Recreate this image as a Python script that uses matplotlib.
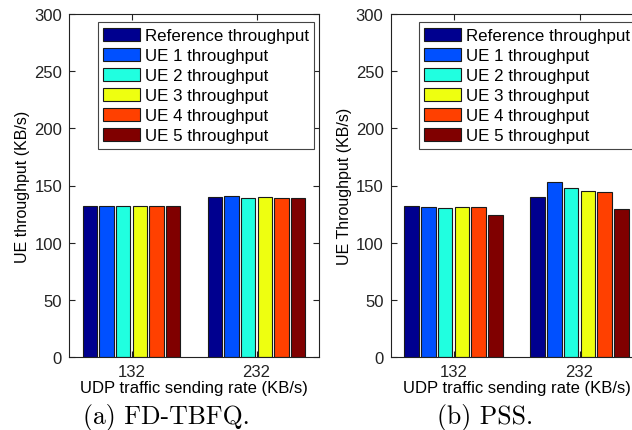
import matplotlib
matplotlib.use("Agg")
import matplotlib.pyplot as plt
import numpy as np

plt.rcParams['font.family'] = ['Liberation Sans', 'DejaVu Sans']

rates = ["132", "232"]
series = ["Reference throughput", "UE 1 throughput", "UE 2 throughput",
          "UE 3 throughput", "UE 4 throughput", "UE 5 throughput"]
colors = ["#00008F", "#0050FF", "#20FFE0", "#EEFF10", "#FF4000", "#800000"]

# values per series: [132, 232]
fdtbfq = {
    "Reference throughput": [132.5, 139.7],
    "UE 1 throughput": [132.5, 140.6],
    "UE 2 throughput": [132.5, 138.8],
    "UE 3 throughput": [132.5, 139.7],
    "UE 4 throughput": [132.5, 138.8],
    "UE 5 throughput": [132.5, 138.8],
}
pss = {
    "Reference throughput": [132.5, 139.7],
    "UE 1 throughput": [131.2, 153.1],
    "UE 2 throughput": [130.6, 148.1],
    "UE 3 throughput": [131.2, 145.0],
    "UE 4 throughput": [131.2, 144.4],
    "UE 5 throughput": [124.5, 129.7],
}

fig = plt.figure(figsize=(6.32, 4.31), dpi=100)
W, H = 632, 431

def px_axes(left, top, right, bottom):
    return fig.add_axes([left / W, 1 - bottom / H, (right - left) / W, (bottom - top) / H])

ax1 = px_axes(69, 15, 319, 358)
ax2 = px_axes(390.5, 15, 642.5, 358)

x = np.arange(1, len(rates) + 1)
step = 0.1333
width = 0.117

def draw(ax, data, ylabel, caption, cap_x, legend_x):
    n = len(series)
    for i, s in enumerate(series):
        off = (i - (n - 1) / 2) * step
        ax.bar(x + off, data[s], width=width, color=colors[i], edgecolor="#1a1a1a",
               linewidth=0.8, label=s, zorder=2)
    ax.set_xlim(0.5, 2.5)
    ax.set_ylim(0, 300)
    ax.set_yticks(np.arange(0, 301, 50))
    ax.set_xticks(x)
    ax.set_xticklabels(rates)
    ax.tick_params(direction='in', top=True, right=True, length=4, width=0.8,
                   labelsize=12, pad=5, colors='#222222')
    for sp in ax.spines.values():
        sp.set_color('#222222')
        sp.set_linewidth(0.8)
    ax.set_xlabel("UDP traffic sending rate (KB/s)", fontsize=12, labelpad=1)
    ax.set_ylabel(ylabel, fontsize=11.5, labelpad=3)
    leg = ax.legend(loc='upper left', bbox_to_anchor=(legend_x, 0.976), fontsize=12.2,
                    fancybox=False, framealpha=1, edgecolor='#444444',
                    handlelength=2.15, handleheight=0.85, handletextpad=0.3,
                    labelspacing=0.26, borderpad=0.32, borderaxespad=0)
    leg.get_frame().set_linewidth(0.8)
    fig.text(cap_x / W, 1 - 418 / H, caption, fontsize=18.5,
             family='cmr10', ha='center', va='center')

draw(ax1, fdtbfq, "UE throughput (KB/s)", "(a) FD-TBFQ.", 166.5, 0.115)
draw(ax2, pss, "UE Throughput (KB/s)", "(b) PSS.", 485, 0.112)

fig.savefig("out.png", dpi=100)
